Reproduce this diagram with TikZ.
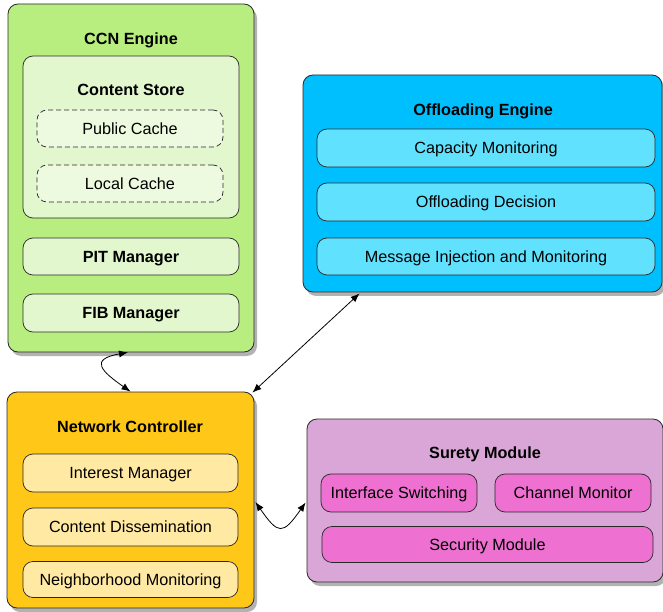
\documentclass[tikz,border=0pt]{standalone}
\usepackage{fontspec}
\setmainfont{Liberation Sans}
\usetikzlibrary{arrows.meta,shadows,calc}
\definecolor{ccnfill}{RGB}{184,238,128}
\definecolor{ccninner}{RGB}{227,247,207}
\definecolor{ccndash}{RGB}{237,250,223}
\definecolor{oefill}{RGB}{0,191,255}
\definecolor{oeinner}{RGB}{96,226,255}
\definecolor{ncfill}{RGB}{255,199,24}
\definecolor{ncinner}{RGB}{255,233,163}
\definecolor{smfill}{RGB}{218,166,216}
\definecolor{sminner}{RGB}{238,112,208}
\definecolor{edge}{RGB}{40,40,40}
\tikzset{
  outerbox/.style={draw=edge, line width=0.8pt, rounded corners=10pt,
    drop shadow={shadow xshift=3pt, shadow yshift=-4pt, opacity=0.3, fill=black}},
  innerbox/.style={draw=edge, line width=0.7pt, rounded corners=10pt, font=\fontsize{16.2}{19}\selectfont, inner sep=0pt, text height=11.6pt, text depth=0pt},
  dashbox/.style={innerbox, dashed, dash pattern=on 5pt off 3pt},
  titletext/.style={font=\fontsize{16.2}{19}\selectfont\bfseries, inner sep=0pt, text height=11.6pt, text depth=0pt},
  link/.style={line width=0.8pt, {Latex[length=9pt,width=7pt]}-{Latex[length=9pt,width=7pt]}}
}
\begin{document}
\begin{tikzpicture}[x=1pt,y=1pt]
\useasboundingbox (0,0) rectangle (663,611);
% CCN Engine
\node[outerbox, fill=ccnfill, minimum width=246pt, minimum height=348pt] (ccn) at (131,433) {};
\node[titletext] (ccnt) at (131,572) {CCN Engine};
\node[innerbox, fill=ccninner, minimum width=216pt, minimum height=162pt] (cs) at (131,474) {};
\node[titletext] (cst) at (131,521) {Content Store};
\node[dashbox, fill=ccndash, minimum width=186pt, minimum height=37pt] (pub) at (130,482.5) {Public Cache};
\node[dashbox, fill=ccndash, minimum width=186pt, minimum height=37pt] (loc) at (130,427.5) {Local Cache};
\node[innerbox, fill=ccninner, minimum width=216pt, minimum height=37pt, font=\fontsize{16.2}{19}\selectfont\bfseries] (pit) at (131,354.5) {PIT Manager};
\node[innerbox, fill=ccninner, minimum width=216pt, minimum height=38pt, font=\fontsize{16.2}{19}\selectfont\bfseries] (fib) at (131,298) {FIB Manager};
% Offloading Engine
\node[outerbox, fill=oefill, minimum width=359pt, minimum height=217pt] (oe) at (482.5,427.5) {};
\node[titletext] (oet) at (483,501) {Offloading Engine};
\node[innerbox, fill=oeinner, minimum width=338pt, minimum height=38pt] (cap) at (486,463) {Capacity Monitoring};
\node[innerbox, fill=oeinner, minimum width=338pt, minimum height=38pt] (dec) at (486,409) {Offloading Decision};
\node[innerbox, fill=oeinner, minimum width=338pt, minimum height=37pt] (msg) at (486,354.5) {Message Injection and Monitoring};
% Network Controller
\node[outerbox, fill=ncfill, minimum width=247pt, minimum height=216pt] (nc) at (130.5,111) {};
\node[titletext] (nct) at (130,184) {Network Controller};
\node[innerbox, fill=ncinner, minimum width=215pt, minimum height=38pt] (im) at (130.5,138) {Interest Manager};
\node[innerbox, fill=ncinner, minimum width=215pt, minimum height=38pt] (cd) at (130.5,84) {Content Dissemination};
\node[innerbox, fill=ncinner, minimum width=215pt, minimum height=36pt] (nm) at (130.5,31.5) {Neighborhood Monitoring};
% Surety Module
\node[outerbox, fill=smfill, minimum width=356pt, minimum height=163pt] (sm) at (485,110.5) {};
\node[titletext] (smt) at (485,158) {Surety Module};
\node[innerbox, fill=sminner, minimum width=156pt, minimum height=38pt] (isw) at (399,118) {Interface Switching};
\node[innerbox, fill=sminner, minimum width=156pt, minimum height=38pt] (chm) at (573,118) {Channel Monitor};
\node[innerbox, fill=sminner, minimum width=331pt, minimum height=36pt] (sec) at (487.5,66.5) {Security Module};
% connectors
\coordinate (a1) at ($(ccn.south)+(-3,0)$);
\coordinate (a2) at ($(nc.north)+(0,0)$);
\draw[link] (a1) .. controls +(190:40) and +(145:35) .. (a2);
\coordinate (b1) at ($(oe.south west)+(57,-1)$);
\coordinate (b2) at ($(nc.north east)+(-2,-1)$);
\draw[link] (b1) -- (b2);
\coordinate (c1) at ($(nc.east)+(1,-2)$);
\coordinate (c2) at ($(sm.west)+(-1,-2)$);
\draw[link] (c1) .. controls +(-55:40) and +(-125:40) .. (c2);
\end{tikzpicture}
\end{document}
